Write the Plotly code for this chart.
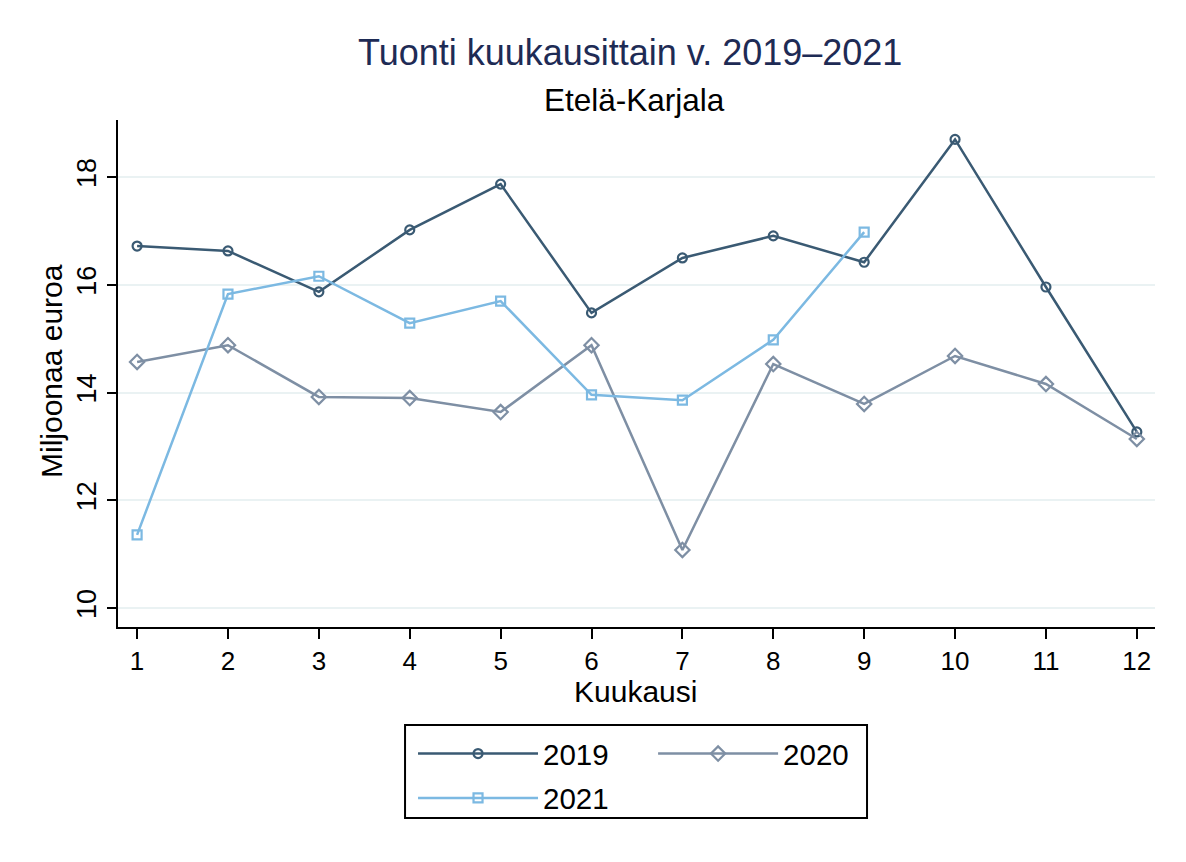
import plotly.graph_objects as go

months = list(range(1, 13))
v2019 = [16.72, 16.63, 15.87, 17.02, 17.87, 15.48, 16.50, 16.91, 16.42, 18.70, 15.96, 13.27]
v2020 = [14.57, 14.88, 13.92, 13.90, 13.64, 14.88, 11.08, 14.53, 13.79, 14.68, 14.16, 13.14]
v2021 = [11.36, 15.83, 16.16, 15.29, 15.70, 13.96, 13.86, 14.98, 16.98]
yticks = [10, 12, 14, 16, 18]

FONT = "Liberation Sans, Arial, sans-serif"
C19 = "#3a5a73"
C20 = "#7e8fa4"
C21 = "#7cb9e2"

fig = go.Figure()
fig.add_trace(go.Scatter(x=months, y=v2019, name="2019", mode="lines+markers",
                         line=dict(color=C19, width=2.5),
                         marker=dict(symbol="circle-open", size=9, color=C19, line=dict(width=2.2)),
                         legend="legend", legendgroup="a"))
fig.add_trace(go.Scatter(x=months, y=v2020, name="2020", mode="lines+markers",
                         line=dict(color=C20, width=2.5),
                         marker=dict(symbol="diamond-open", size=11, color=C20, line=dict(width=2.2)),
                         legend="legend2", legendgroup="b"))
fig.add_trace(go.Scatter(x=months[:len(v2021)], y=v2021, name="2021", mode="lines+markers",
                         line=dict(color=C21, width=2.5),
                         marker=dict(symbol="square-open", size=9, color=C21, line=dict(width=2.2)),
                         legend="legend", legendgroup="c"))

fig.update_layout(
    width=1170, height=846,
    margin=dict(l=110, r=23, t=112, b=227),
    paper_bgcolor="white", plot_bgcolor="white",
    font=dict(family=FONT, color="black", size=28),
    showlegend=True,
    legend=dict(x=0.2845, y=-0.199, xanchor="left", yanchor="top",
                font=dict(size=29.5, family=FONT), itemwidth=120,
                bgcolor="rgba(0,0,0,0)", tracegroupgap=3),
    legend2=dict(x=0.516, y=-0.199, xanchor="left", yanchor="top",
                 font=dict(size=29.5, family=FONT), itemwidth=120,
                 bgcolor="rgba(0,0,0,0)"),
    xaxis=dict(range=[0.79, 12.2], tickmode="array", tickvals=months,
               ticktext=[str(m) for m in months],
               showgrid=False, zeroline=False,
               showline=True, linecolor="black", linewidth=2,
               ticks="outside", ticklen=10, tickwidth=2, tickcolor="black",
               tickfont=dict(size=26, family=FONT)),
    yaxis=dict(range=[9.65, 19.06], tickmode="array", tickvals=yticks,
               ticktext=[str(t) for t in yticks], tickangle=-90,
               showgrid=True, gridcolor="#eaf2f3", gridwidth=2, zeroline=False,
               showline=True, linecolor="black", linewidth=2,
               ticks="outside", ticklen=9, tickwidth=2, tickcolor="black",
               tickfont=dict(size=27, family=FONT)),
    annotations=[
        dict(text="Tuonti kuukausittain v. 2019–2021", xref="paper", yref="paper",
             x=0.494, y=1.134, xanchor="center", yanchor="middle", showarrow=False,
             font=dict(size=36, color="#1e2b55", family=FONT)),
        dict(text="Etelä-Karjala", xref="paper", yref="paper",
             x=0.4976, y=1.039, xanchor="center", yanchor="middle", showarrow=False,
             font=dict(size=31.5, color="black", family=FONT)),
        dict(text="Kuukausi", xref="paper", yref="paper",
             x=0.4995, y=-0.128, xanchor="center", yanchor="middle", showarrow=False,
             font=dict(size=30, color="black", family=FONT)),
        dict(text="Miljoonaa euroa", xref="paper", yref="paper",
             x=-0.0636, y=0.505, xanchor="center", yanchor="middle", showarrow=False,
             textangle=-90, font=dict(size=30, color="black", family=FONT)),
    ],
    shapes=[
        dict(type="rect", xref="paper", yref="paper",
             x0=0.2768, x1=0.7223, y0=-0.1933, y1=-0.3767,
             line=dict(color="black", width=2), fillcolor="rgba(0,0,0,0)"),
    ],
)

fig.write_html("out.html")
